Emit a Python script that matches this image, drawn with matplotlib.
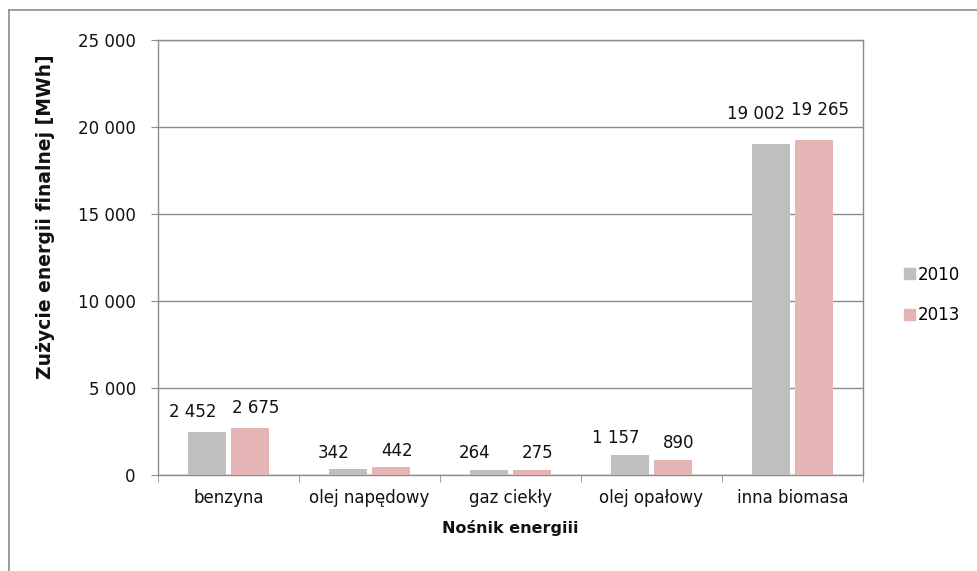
import matplotlib
matplotlib.use("Agg")
import matplotlib.pyplot as plt
import numpy as np
from matplotlib.patches import Rectangle
from matplotlib.lines import Line2D

plt.rcParams['font.family'] = ['DejaVu Sans']

categories = ["benzyna", "olej napędowy", "gaz ciekły", "olej opałowy", "inna biomasa"]
series_names = ["2010", "2013"]
values_2010 = [2452, 342, 264, 1157, 19002]
values_2013 = [2675, 442, 275, 890, 19265]
yticks = [0, 5000, 10000, 15000, 20000, 25000]

# label gap above bar (px), per category (styling)
label_gap_px = [15, 11, 12, 12, 25]

def fmt(v):
    return f"{v:,}".replace(",", " ")

colors = ["#BEC0BF", "#E5B4B5"]
edge = "#8C8C8C"
W, H = 978, 571

fig = plt.figure(figsize=(W / 100, H / 100), dpi=100)
fig.patch.set_facecolor("white")
fig.add_artist(Line2D([9 / W, 9 / W], [0, 1 - 10 / H], transform=fig.transFigure, color=edge, lw=1.2))
fig.add_artist(Line2D([9 / W, 1], [1 - 10 / H, 1 - 10 / H], transform=fig.transFigure, color=edge, lw=1.2))

L, R, T, B = 158, 863, 40, 475
ax = fig.add_axes([L / W, 1 - B / H, (R - L) / W, (B - T) / H])
x = np.arange(len(categories))
w = 0.27
off = 0.15
px = 0.72  # points per pixel
for i, (vals, name) in enumerate(zip([values_2010, values_2013], series_names)):
    pos = x + (-off if i == 0 else off)
    ax.bar(pos, vals, width=w, color=colors[i], label=name, zorder=3)
    dx = -15 if i == 0 else 6
    for j, (p, v) in enumerate(zip(pos, vals)):
        ax.annotate(fmt(v), (p, v), xytext=(dx * px, label_gap_px[j] * px),
                    textcoords="offset points", ha="center", va="baseline",
                    fontsize=12, color="#111111", zorder=4)

ax.set_xlim(-0.5, len(categories) - 0.5)
ax.set_ylim(0, 25000)
ax.set_yticks(yticks)
ax.set_yticklabels([fmt(t) for t in yticks], fontsize=12, color="#111111")
ax.set_xticks(x)
ax.set_xticklabels(categories, fontsize=12, color="#111111")
ax.set_xticks(np.arange(-0.5, len(categories)), minor=True)
ax.tick_params(axis="x", which="major", length=0, pad=10)
ax.tick_params(axis="x", which="minor", length=5, color=edge, direction="out")
ax.tick_params(axis="y", length=5, color=edge, direction="out", pad=11)
ax.grid(axis="y", color=edge, linewidth=1.0, zorder=0)
for s in ax.spines.values():
    s.set_color(edge)
    s.set_linewidth(1.0)

fig.text(510 / W, 1 - 528 / H, "Nośnik energiii", fontsize=11.5, fontweight="bold",
         ha="center", va="center", color="#111111")
fig.text(46 / W, 1 - 217 / H, "Zużycie energii finalnej [MWh]", fontsize=13.5, fontweight="bold",
         ha="center", va="center", rotation=90, color="#111111")

handles = [Rectangle((0, 0), 1, 1, color=c) for c in colors]
fig.legend(handles, series_names, loc="center left", bbox_to_anchor=(904 / W, 1 - 295 / H),
           frameon=False, fontsize=12, handlelength=0.65, handleheight=0.65,
           handletextpad=0.2, labelspacing=1.35, borderaxespad=0, borderpad=0)

fig.savefig("out.png", dpi=100)
